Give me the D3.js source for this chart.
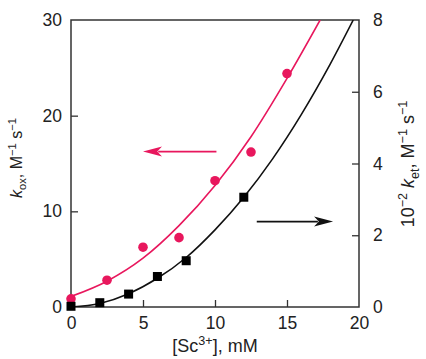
<!DOCTYPE html>
<html>
<head>
<meta charset="utf-8">
<script src="https://cdn.jsdelivr.net/npm/d3@7"></script>
<style>
  html, body { margin: 0; padding: 0; background: #fff; }
  svg { display: block; font-family: "Liberation Sans", Arial, Helvetica, sans-serif; }
</style>
</head>
<body>
<div id="chart"></div>
<script>
// [Sc3+] concentrations (mM) and measured rate constants
const kOxX = [0, 2.5, 5, 7.5, 10, 12.5, 15];
const kOxY = [0.85, 2.8, 6.25, 7.25, 13.2, 16.2, 24.4];      // k_ox, M^-1 s^-1 (left axis)
const kEtX = [0, 2, 4, 6, 8, 12];
const kEtY = [0.02, 0.12, 0.36, 0.85, 1.29, 3.06];           // 10^-2 k_et, M^-1 s^-1 (right axis)

// fitted curves, sampled along [Sc3+]
const fitOxX = [0, 2.5, 5, 7.5, 10, 12.5, 15, 17.3];
const fitOxY = [1.1, 2.7, 5.1, 8.5, 12.7, 17.8, 23.9, 30];
const fitEtX = [0, 2, 4, 6, 8, 10, 12, 14, 16, 18, 19.6];
const fitEtY = [0, 0.1, 0.37, 0.8, 1.38, 2.15, 3.06, 4.13, 5.37, 6.77, 8];

// tick labels
const xTicks = [0, 5, 10, 15, 20];
const yLeftTicks = [0, 10, 20, 30];
const yRightTicks = [0, 2, 4, 6, 8];

// direction arrows: [x0, x1, y] in data units of their own axis
const arrowOx = [10.1, 5.0, 16.25];
const arrowEt = [12.9, 18.2, 2.38];

const RED = "#e8175d";
const W = 426, H = 359;
const m = { left: 71, right: 67, top: 20, bottom: 52 };
const x0 = m.left, x1 = W - m.right, y0 = H - m.bottom, y1 = m.top;

const x = d3.scaleLinear().domain([0, 20]).range([x0, x1]);
const yL = d3.scaleLinear().domain([0, 30]).range([y0, y1]);
const yR = d3.scaleLinear().domain([0, 8]).range([y0, y1]);

const svg = d3.select("#chart").append("svg")
  .attr("width", W).attr("height", H);

svg.append("defs").append("clipPath").attr("id", "plot")
  .append("rect").attr("x", x0).attr("y", y1).attr("width", x1 - x0).attr("height", y0 - y1);

// axes with inward ticks
const axisStyle = g => {
  g.select(".domain").remove();
  g.selectAll(".tick line").attr("stroke", "#333").attr("stroke-width", 1.3);
  g.selectAll(".tick text").attr("fill", "#222").attr("font-size", 17.5)
    .attr("font-family", "'Liberation Sans', Arial, sans-serif");
};

svg.append("g").attr("transform", `translate(0,${y0})`)
  .call(d3.axisBottom(x).tickValues(xTicks).tickSize(-7).tickPadding(10).tickFormat(d3.format("d")))
  .call(axisStyle)
  .call(g => g.selectAll(".tick line").filter(d => d === 0 || d === 20).remove());

svg.append("g").attr("transform", `translate(${x0},0)`)
  .call(d3.axisLeft(yL).tickValues(yLeftTicks).tickSize(-7).tickPadding(9).tickFormat(d3.format("d")))
  .call(axisStyle)
  .call(g => g.selectAll(".tick line").filter(d => d === 0 || d === 30).remove());

svg.append("g").attr("transform", `translate(${x1},0)`)
  .call(d3.axisRight(yR).tickValues(yRightTicks).tickSize(-7).tickPadding(14).tickFormat(d3.format("d")))
  .call(axisStyle)
  .call(g => g.selectAll(".tick line").filter(d => d === 0 || d === 8).remove());

// frame
svg.append("rect").attr("x", x0).attr("y", y1).attr("width", x1 - x0).attr("height", y0 - y1)
  .attr("fill", "none").attr("stroke", "#333").attr("stroke-width", 1.5);

// fitted curves
const plot = svg.append("g").attr("clip-path", "url(#plot)");
plot.append("path")
  .datum(fitOxX.map((v, i) => [v, fitOxY[i]]))
  .attr("fill", "none").attr("stroke", RED).attr("stroke-width", 1.6)
  .attr("d", d3.line().x(d => x(d[0])).y(d => yL(d[1])).curve(d3.curveMonotoneX));
plot.append("path")
  .datum(fitEtX.map((v, i) => [v, fitEtY[i]]))
  .attr("fill", "none").attr("stroke", "#111").attr("stroke-width", 1.6)
  .attr("d", d3.line().x(d => x(d[0])).y(d => yR(d[1])).curve(d3.curveMonotoneX));

// measured points
svg.append("g").selectAll("circle")
  .data(kOxX.map((v, i) => [v, kOxY[i]]))
  .join("circle")
  .attr("cx", d => x(d[0])).attr("cy", d => yL(d[1])).attr("r", 4.8)
  .attr("fill", RED);

const sq = 9;
svg.append("g").selectAll("rect")
  .data(kEtX.map((v, i) => [v, kEtY[i]]))
  .join("rect")
  .attr("x", d => x(d[0]) - sq / 2).attr("y", d => yR(d[1]) - sq / 2)
  .attr("width", sq).attr("height", sq).attr("fill", "#000");

// arrows pointing to each series' axis
function arrow(xa, xb, yy, color) {
  const dir = Math.sign(xb - xa), headL = 19, headW = 5;
  svg.append("line")
    .attr("x1", xa).attr("x2", xb - dir * headL * 0.8).attr("y1", yy).attr("y2", yy)
    .attr("stroke", color).attr("stroke-width", 1.8);
  svg.append("path")
    .attr("d", `M${xb},${yy} L${xb - dir * headL},${yy - headW} L${xb - dir * headL * 0.75},${yy} L${xb - dir * headL},${yy + headW} Z`)
    .attr("fill", color);
}
arrow(x(arrowOx[0]), x(arrowOx[1]), yL(arrowOx[2]), RED);
arrow(x(arrowEt[0]), x(arrowEt[1]), yR(arrowEt[2]), "#111");

// axis titles with sub/superscripts
function title(sel, size, parts) {
  let shift = 0;
  parts.forEach(([t, kind]) => {
    const ts = sel.append("tspan").text(t);
    if (kind === "sup") { ts.attr("font-size", size * 0.7).attr("dy", -size * 0.4 + shift); shift = size * 0.4; }
    else if (kind === "sub") { ts.attr("font-size", size * 0.7).attr("dy", size * 0.28 + shift); shift = -size * 0.28; }
    else {
      if (kind === "it") ts.attr("font-style", "italic");
      ts.attr("dy", shift); shift = 0;
    }
  });
}

const xt = svg.append("text").attr("x", (x0 + x1) / 2).attr("y", 352)
  .attr("text-anchor", "middle").attr("font-size", 18).attr("fill", "#222");
title(xt, 18, [["[Sc"], ["3+", "sup"], ["], mM"]]);

const yt = svg.append("text").attr("transform", "translate(22,158) rotate(-90)")
  .attr("text-anchor", "middle").attr("font-size", 16).attr("fill", "#222");
title(yt, 16, [["k", "it"], ["ox", "sub"], [", M"], ["\u22121", "sup"], [" s"], ["\u22121", "sup"]]);

const yt2 = svg.append("text").attr("transform", "translate(414,164) rotate(-90)")
  .attr("text-anchor", "middle").attr("font-size", 18).attr("fill", "#222");
title(yt2, 18, [["10"], ["\u22122", "sup"], [" "], ["k", "it"], ["et", "sub"], [", M"], ["\u22121", "sup"], [" s"], ["\u22121", "sup"]]);
</script>
</body>
</html>
